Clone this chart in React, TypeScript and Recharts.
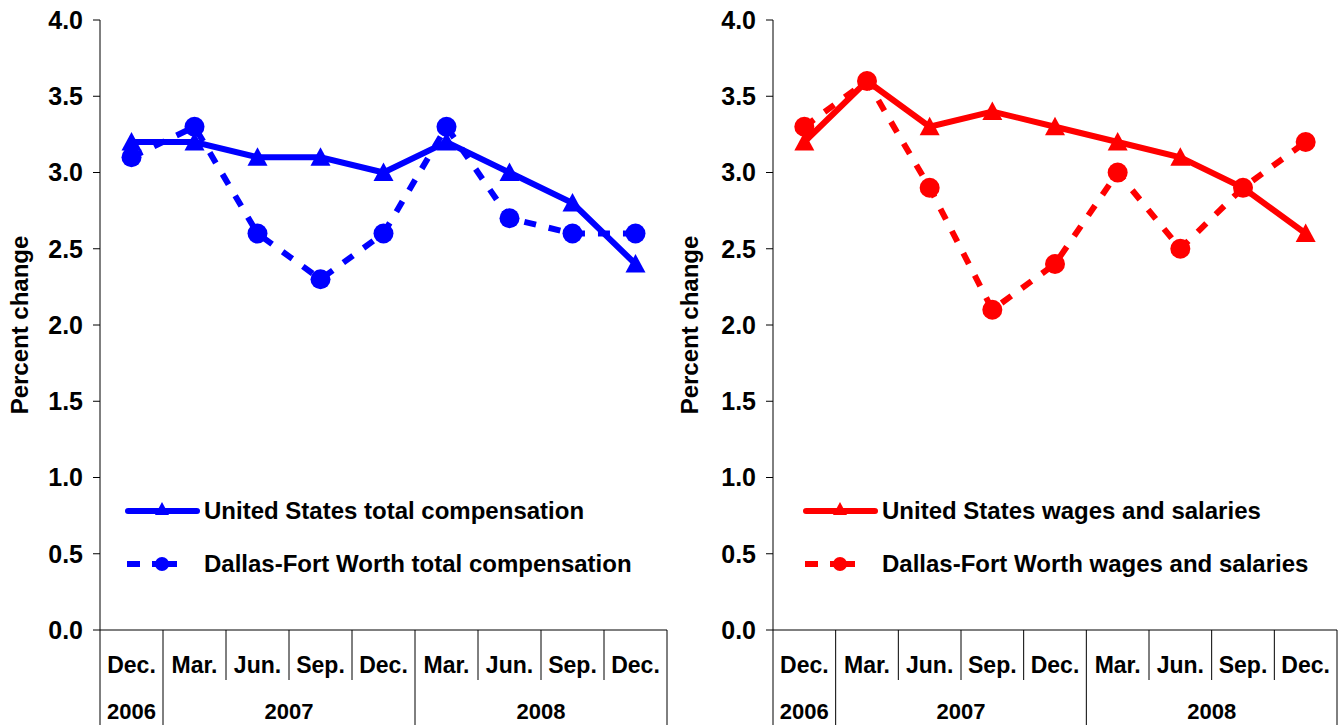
import React from 'react'
import { LineChart, Line, XAxis, YAxis } from 'recharts'

const months = ['Dec.', 'Mar.', 'Jun.', 'Sep.', 'Dec.', 'Mar.', 'Jun.', 'Sep.', 'Dec.']
const years = [
  { label: '2006', start: 0, count: 1 },
  { label: '2007', start: 1, count: 4 },
  { label: '2008', start: 5, count: 4 },
]
const usTotalComp = [3.2, 3.2, 3.1, 3.1, 3.0, 3.2, 3.0, 2.8, 2.4]
const dfwTotalComp = [3.1, 3.3, 2.6, 2.3, 2.6, 3.3, 2.7, 2.6, 2.6]
const usWages = [3.2, 3.6, 3.3, 3.4, 3.3, 3.2, 3.1, 2.9, 2.6]
const dfwWages = [3.3, 3.6, 2.9, 2.1, 2.4, 3.0, 2.5, 2.9, 3.2]
const yTicks = [0, 0.5, 1, 1.5, 2, 2.5, 3, 3.5, 4]

const FONT = '"Liberation Sans", Arial, sans-serif'
const CHART_W = 670
const CHART_H = 725
const X_AXIS_H = 95
const DASH = '12 13'

function Triangle({ cx, cy, fill, size = 10 }: any) {
  if (cx == null || cy == null) return null
  const h = size * 0.85
  return <path d={`M${cx},${cy - size} L${cx + size},${cy + h} L${cx - size},${cy + h} Z`} fill={fill} />
}

function makeMonthTick(band: number) {
  return function MonthTick({ x, y, index, payload }: any) {
    const yr = years.find((d) => d.start === index)
    const left = x - band / 2
    const last = index === months.length - 1
    return (
      <g>
        <line x1={left} x2={left} y1={y} y2={y + (yr ? X_AXIS_H : 50)} stroke="#000" strokeWidth={1} />
        {last && <line x1={x + band / 2} x2={x + band / 2} y1={y} y2={y + X_AXIS_H} stroke="#000" strokeWidth={1} />}
        <text x={x} y={y + 43} textAnchor="middle" fontFamily={FONT} fontWeight="bold" fontSize={23} fill="#000">
          {payload.value}
        </text>
        {yr && (
          <text
            x={x + ((yr.count - 1) * band) / 2}
            y={y + 89}
            textAnchor="middle"
            fontFamily={FONT}
            fontWeight="bold"
            fontSize={22}
            fill="#000"
          >
            {yr.label}
          </text>
        )}
      </g>
    )
  }
}

function YLabel({ viewBox }: any) {
  const cx = 19
  const cy = viewBox.y + viewBox.height / 2
  return (
    <text
      x={cx}
      y={cy}
      transform={`rotate(-90, ${cx}, ${cy})`}
      textAnchor="middle"
      dominantBaseline="central"
      fontFamily={FONT}
      fontWeight="bold"
      fontSize={24}
      fill="#000"
    >
      Percent change
    </text>
  )
}

function LegendBox({ color, labels, left }: { color: string; labels: string[]; left: number }) {
  return (
    <div style={{ position: 'absolute', left, top: 494, fontFamily: FONT, fontWeight: 'bold', fontSize: 24 }}>
      {labels.map((label, i) => (
        <div key={label} style={{ display: 'flex', alignItems: 'center', height: 34, marginBottom: i === 0 ? 19 : 0 }}>
          <svg width={79} height={34}>
            {i === 0 ? (
              <>
                <line x1={3} x2={72} y1={17} y2={17} stroke={color} strokeWidth={6} strokeLinecap="round" />
                <Triangle cx={37} cy={15} size={7} fill={color} />
              </>
            ) : (
              <>
                <line x1={2} x2={52} y1={17} y2={17} stroke={color} strokeWidth={6} strokeDasharray="13 12 25" />
                <circle cx={37} cy={17} r={7} fill={color} />
              </>
            )}
          </svg>
          <span style={{ color: '#000', whiteSpace: 'nowrap' }}>{label}</span>
        </div>
      ))}
    </div>
  )
}

function Panel({
  us,
  dfw,
  color,
  labels,
  yAxisW,
  legendLeft,
}: {
  us: number[]
  dfw: number[]
  color: string
  labels: string[]
  yAxisW: number
  legendLeft: number
}) {
  const data = months.map((m, i) => ({ month: m, us: us[i], dfw: dfw[i] }))
  const margin = { top: 20, right: 3, bottom: 0, left: 0 }
  const band = (CHART_W - yAxisW - margin.right) / months.length
  const MonthTick = makeMonthTick(band)
  return (
    <div style={{ position: 'relative', width: CHART_W, height: CHART_H }}>
      <LineChart width={CHART_W} height={CHART_H} data={data} margin={margin}>
        <XAxis
          dataKey="month"
          interval={0}
          height={X_AXIS_H}
          padding={{ left: band / 2, right: band / 2 }}
          tickLine={false}
          tickSize={0}
          tickMargin={0}
          axisLine={{ stroke: '#000', strokeWidth: 1 }}
          tick={<MonthTick />}
        />
        <YAxis
          width={yAxisW}
          domain={[0, 4]}
          ticks={yTicks}
          interval={0}
          tickSize={7}
          tickMargin={10}
          tickLine={{ stroke: '#000' }}
          axisLine={{ stroke: '#000', strokeWidth: 1 }}
          tickFormatter={(v: number) => v.toFixed(1)}
          tick={{ fontFamily: FONT, fontWeight: 'bold', fontSize: 25, fill: '#000' }}
          label={<YLabel />}
        />
        <Line
          dataKey="us"
          stroke={color}
          strokeWidth={6}
          dot={<Triangle fill={color} />}
          activeDot={false}
          isAnimationActive={false}
        />
        <Line
          dataKey="dfw"
          stroke={color}
          strokeWidth={6}
          strokeDasharray={DASH}
          dot={{ r: 10, fill: color, stroke: 'none' }}
          activeDot={false}
          isAnimationActive={false}
        />
      </LineChart>
      <LegendBox color={color} labels={labels} left={legendLeft} />
    </div>
  )
}

export default function App() {
  return (
    <div style={{ position: 'absolute', left: 0, top: 0, width: 1340, height: 725, background: '#fff', display: 'flex' }}>
      <Panel
        us={usTotalComp}
        dfw={dfwTotalComp}
        color="#0000ff"
        labels={['United States total compensation', 'Dallas-Fort Worth total compensation']}
        yAxisW={100}
        legendLeft={125}
      />
      <Panel
        us={usWages}
        dfw={dfwWages}
        color="#ff0000"
        labels={['United States wages and salaries', 'Dallas-Fort Worth wages and salaries']}
        yAxisW={103}
        legendLeft={133}
      />
    </div>
  )
}
